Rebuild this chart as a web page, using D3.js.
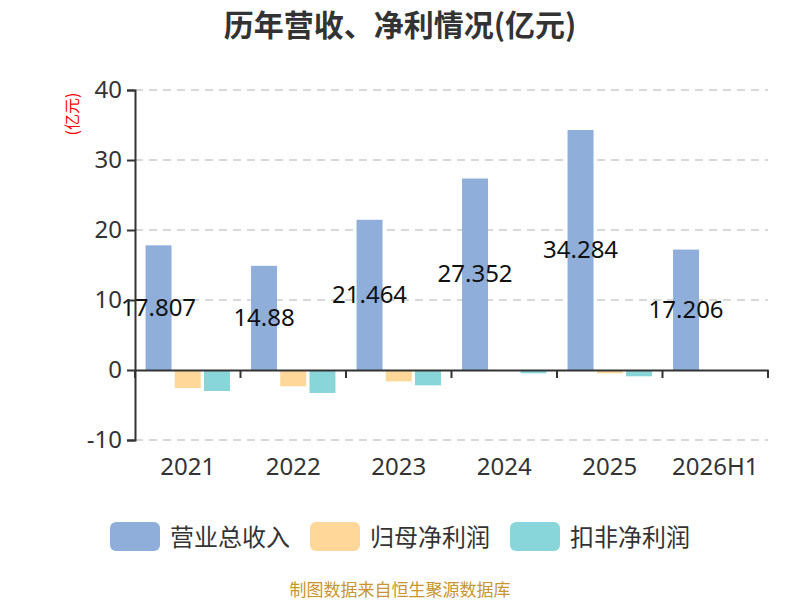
<!DOCTYPE html>
<html>
<head>
<meta charset="utf-8">
<script src="https://cdn.jsdelivr.net/npm/d3@7"></script>
<style>
  body { margin: 0; background: #fff; }
  svg { font-family: "Noto Sans CJK SC", "Noto Sans", sans-serif; }
</style>
</head>
<body>
<div id="chart"></div>
<script>
// data
const years = ["2021", "2022", "2023", "2024", "2025", "2026H1"]
const seriesNames = ["营业总收入", "归母净利润", "扣非净利润"]
const revenue = [17.807, 14.88, 21.464, 27.352, 34.284, 17.206]
const netProfit = [-2.57, -2.33, -1.62, -0.05, -0.47, 0]
const deductedProfit = [-3.0, -3.28, -2.19, -0.47, -0.9, -0.06]
const yTicks = [-10, 0, 10, 20, 30, 40]
const colors = ["#8FAEDA", "#FFD899", "#88D6DA"]

const W = 800, H = 600
const margin = { top: 90, right: 32, bottom: 160, left: 135 },
    width = W - margin.left - margin.right,
    height = H - margin.top - margin.bottom

const svg = d3.select("#chart")
    .append("svg")
    .attr("width", W)
    .attr("height", H)

// title
svg.append("text")
    .text("历年营收、净利情况(亿元)")
    .attr("x", W / 2)
    .attr("y", 36)
    .attr("text-anchor", "middle")
    .style("font-size", "30px")
    .style("font-weight", "bold")
    .attr("fill", "#333")

const g = svg.append("g")
    .attr("transform", `translate(${margin.left}, ${margin.top})`)

const x = d3.scaleBand().domain(years).range([0, width]).paddingInner(0).paddingOuter(0)
const y = d3.scaleLinear().domain([-10, 40]).range([height, 0])

// sub-band: 80% of category for the three bars, small gap between them
const xSub = d3.scaleBand().domain(d3.range(3))
    .range([x.bandwidth() * 0.1, x.bandwidth() * 0.9])
    .paddingInner(0.11)

// gridlines
g.selectAll(".grid")
    .data(yTicks.filter(d => d !== 0))
    .join("line")
    .attr("class", "grid")
    .attr("x1", 0)
    .attr("x2", width)
    .attr("y1", d => y(d))
    .attr("y2", d => y(d))
    .attr("stroke", "#ccc")
    .attr("stroke-width", 1.5)
    .attr("stroke-dasharray", "8,6")

// bars
const rows = years.map((yr, i) => ({
    year: yr,
    values: [revenue[i], netProfit[i], deductedProfit[i]]
}))

const groups = g.selectAll(".yr")
    .data(rows)
    .join("g")
    .attr("class", "yr")
    .attr("transform", d => `translate(${x(d.year)}, 0)`)

groups.selectAll("rect")
    .data(d => d.values.map((v, k) => ({ v: v, k: k })))
    .join("rect")
    .attr("x", d => xSub(d.k))
    .attr("width", xSub.bandwidth())
    .attr("y", d => y(Math.max(0, d.v)))
    .attr("height", d => Math.abs(y(d.v) - y(0)))
    .attr("fill", d => colors[d.k])

// revenue labels, in the middle of the bar
groups.append("text")
    .text((d, i) => revenue[i])
    .attr("x", xSub(0) + xSub.bandwidth() / 2)
    .attr("y", (d, i) => y(revenue[i] / 2))
    .attr("dy", "0.33em")
    .attr("text-anchor", "middle")
    .style("font-size", "24px")
    .style("font-family", "'Noto Sans', sans-serif")
    .attr("fill", "#111")

// axes
const yAxis = g.append("g")
    .call(d3.axisLeft(y).tickValues(yTicks).tickSize(8).tickPadding(5).tickFormat(d => String(d)))
yAxis.select(".domain").attr("stroke", "#333").attr("stroke-width", 2)
yAxis.selectAll(".tick line").attr("stroke", "#333").attr("stroke-width", 2)
yAxis.selectAll(".tick text")
    .style("font-size", "24px")
    .attr("fill", "#333")
    .style("font-family", "'Noto Sans', sans-serif")

const xAxis = g.append("g")
    .attr("transform", `translate(0, ${y(0)})`)
    .call(d3.axisBottom(x).tickSize(0).tickFormat(""))
xAxis.select(".domain").attr("stroke", "#333").attr("stroke-width", 2)

// category boundary ticks
g.selectAll(".xtick")
    .data(years.concat(["end"]))
    .join("line")
    .attr("class", "xtick")
    .attr("x1", (d, i) => i * x.step())
    .attr("x2", (d, i) => i * x.step())
    .attr("y1", y(0))
    .attr("y2", y(0) + 8)
    .attr("stroke", "#333")
    .attr("stroke-width", 2)

g.selectAll(".xlabel")
    .data(years)
    .join("text")
    .attr("class", "xlabel")
    .text(d => d)
    .attr("x", d => x(d) + x.bandwidth() / 2)
    .attr("y", height + 35)
    .attr("text-anchor", "middle")
    .style("font-size", "24px")
    .style("font-family", "'Noto Sans', sans-serif")
    .attr("fill", "#333")

// unit label
svg.append("text")
    .text("(亿元)")
    .attr("transform", `translate(78, 114) rotate(-90)`)
    .attr("text-anchor", "middle")
    .style("font-size", "16px")
    .attr("fill", "red")

// legend
const legendX = [110, 310, 510]
const legend = svg.selectAll(".legend")
    .data(seriesNames)
    .join("g")
    .attr("class", "legend")
    .attr("transform", (d, i) => `translate(${legendX[i]}, 522)`)

legend.append("rect")
    .attr("width", 50)
    .attr("height", 29)
    .attr("rx", 6)
    .attr("fill", (d, i) => colors[i])

legend.append("text")
    .text(d => d)
    .attr("x", 60)
    .attr("y", 15)
    .attr("dy", "0.36em")
    .style("font-size", "24px")
    .attr("fill", "#333")

// source note
svg.append("text")
    .text("制图数据来自恒生聚源数据库")
    .attr("x", W / 2)
    .attr("y", 590)
    .attr("dy", "0.35em")
    .attr("text-anchor", "middle")
    .style("font-size", "17px")
    .attr("fill", "#C8952E")
</script>
</body>
</html>
